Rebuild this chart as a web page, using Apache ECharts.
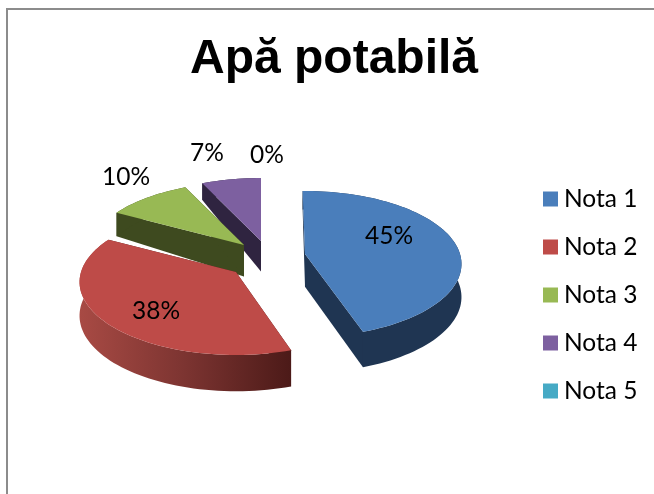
<!DOCTYPE html>
<html>
<head>
<meta charset="utf-8">
<style>html,body{margin:0;padding:0;background:#fff}#c{width:654px;height:494px}</style>
<script src="https://cdn.jsdelivr.net/npm/echarts@6/dist/echarts.min.js"></script>
</head>
<body>
<div id="c"></div>
<script>
var categories = ['Nota 1', 'Nota 2', 'Nota 3', 'Nota 4', 'Nota 5'];
var percentValues = [45, 38, 10, 7, 0];
var topColors = ['#4a7ebb', '#be4b48', '#98b954', '#7d60a0', '#46aac5'];
var wallColors = ['#1f3552', null, '#3e4a1f', '#2f2440', '#1f4a55'];
var apexes = [[305, 254], [236, 272], [244, 245], [261, 241], [261, 241]];
var labelSpots = [[389, 236], [156, 311], [126, 177], [207, 153], [267, 155]];
var tilts = [-1, 0, 0, 0, 0];

var RX = 155, RY = 71.6, K = 0.137;
var FONT = '24.5px Lato, Carlito, sans-serif';

function project(apex, deg) {
  var t = deg * Math.PI / 180, u = Math.sin(t), v = Math.cos(t), s = 1 + K * v;
  return [apex[0] + u * RX / s, apex[1] - v * RY / s];
}
function depth(y) {
  return y < 250 ? Math.max(16, 17 + (y - 185) * 0.24) : 32.6 + (y - 250) * 0.035;
}
function drop(p) { return [p[0], p[1] + depth(p[1])]; }

function sliceRange(i) {
  var before = 0, total = 0;
  percentValues.forEach(function (v, j) { total += v; if (j < i) before += v; });
  return [tilts[i] + before / total * 360, tilts[i] + (before + percentValues[i]) / total * 360];
}

function sliceRender(i) {
  return function () {
    var children = [];
    var r = sliceRange(i), apex = apexes[i];
    if (r[1] > r[0]) {
      var arc = [];
      var n = Math.max(2, Math.ceil((r[1] - r[0]) / 2));
      for (var a = 0; a <= n; a++) arc.push(project(apex, r[0] + (r[1] - r[0]) * a / n));
      var wallFill = wallColors[i] || new echarts.graphic.LinearGradient(0, 0, 1, 0, [
        { offset: 0, color: '#a84a44' },
        { offset: 0.5, color: '#7c3431' },
        { offset: 1, color: '#4c1a18' }
      ]);
      var first = arc[0], last = arc[arc.length - 1];
      [first, last].forEach(function (p) {
        children.push({ type: 'polygon', shape: { points: [apex, p, drop(p), drop(apex)] },
          style: { fill: wallColors[i] || '#4c1a18' } });
      });
      children.push({ type: 'polygon',
        shape: { points: arc.concat(arc.slice().reverse().map(drop)) },
        style: { fill: wallFill } });
      children.push({ type: 'polygon', shape: { points: [apex].concat(arc) },
        style: { fill: topColors[i] } });
    }
    children.push({ type: 'text', style: {
      x: labelSpots[i][0], y: labelSpots[i][1], text: percentValues[i] + '%',
      font: FONT, fill: '#000', align: 'center', verticalAlign: 'middle' }, z2: 50 });
    return { type: 'group', children: children };
  };
}

var drawOrder = [3, 4, 2, 1, 0];
var chart = echarts.init(document.getElementById('c'), null, { renderer: 'canvas' });
chart.setOption({
  animation: false,
  backgroundColor: '#fff',
  title: {
    text: 'Apă potabilă', left: 334, top: 32, textAlign: 'center', padding: 0,
    textStyle: { fontFamily: 'Liberation Sans, Arial', fontWeight: 'bold', fontSize: 48, color: '#000', lineHeight: 56 }
  },
  legend: {
    orient: 'vertical', left: 543, top: 185, padding: 0, itemWidth: 15, itemHeight: 15, itemGap: 20,
    selectedMode: false, icon: 'rect', data: categories,
    textStyle: { fontFamily: 'Lato, Carlito, sans-serif', fontSize: 24.5, color: '#000', lineHeight: 28, padding: [0, 0, 0, 1] }
  },
  graphic: [
    { type: 'rect', shape: { x: 6, y: 8, width: 648, height: 2 }, style: { fill: '#8c8c8c' }, silent: true },
    { type: 'rect', shape: { x: 6, y: 8, width: 2, height: 486 }, style: { fill: '#8c8c8c' }, silent: true }
  ],
  series: drawOrder.map(function (i) {
    return {
      type: 'custom', name: categories[i], coordinateSystem: 'none',
      itemStyle: { color: topColors[i] }, silent: true,
      data: [percentValues[i]], renderItem: sliceRender(i)
    };
  })
});
</script>
</body>
</html>
